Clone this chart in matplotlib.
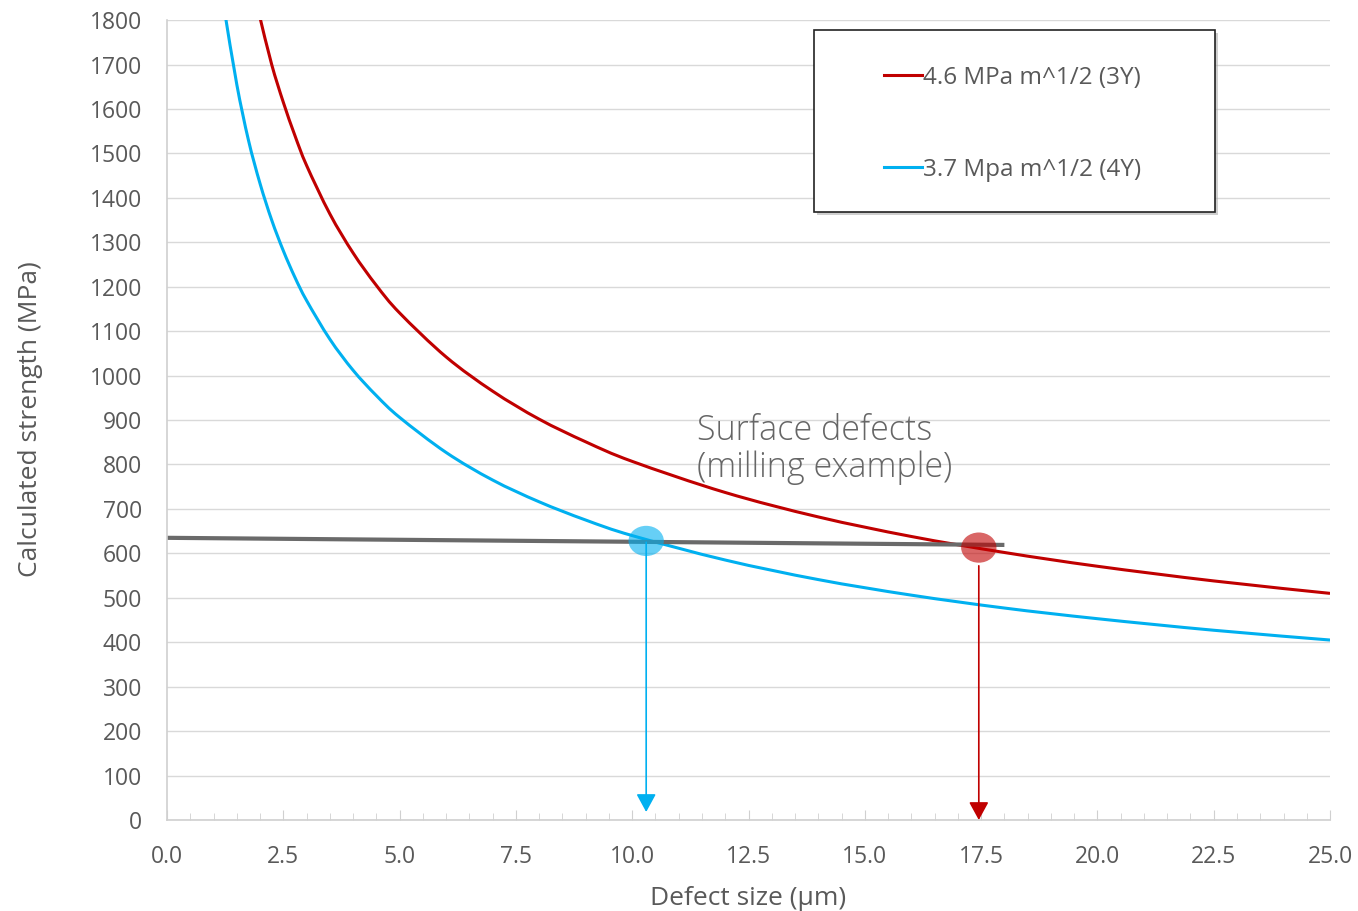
import matplotlib
matplotlib.use("Agg")
import matplotlib.pyplot as plt
from matplotlib.patches import Ellipse, Rectangle, PathPatch
from matplotlib.path import Path
from matplotlib.lines import Line2D
from matplotlib.ticker import MultipleLocator, FormatStrFormatter
import numpy as np

plt.rcParams['font.family'] = ['Open Sans', 'DejaVu Sans']

# red curve: 4.6 MPa m^1/2 (3Y)
red_x = [2.0, 2.25, 2.5, 2.75, 3.0, 3.5, 4.0, 4.5, 5.0, 6.0, 7.0, 8.0, 9.0,
         10.0, 12.0, 14.0, 16.0, 18.0, 20.0, 22.5, 25.0]
red_y = [1805, 1700, 1615, 1540, 1473, 1364, 1276, 1203, 1141, 1042, 965, 902,
         851, 807, 737, 682, 638, 602, 571, 538, 510]

# blue curve: 3.7 Mpa m^1/2 (4Y)
blue_x = [1.25, 1.5, 1.75, 2.0, 2.25, 2.5, 2.75, 3.0, 3.5, 4.0, 4.5, 5.0, 6.0,
          7.0, 8.0, 9.0, 10.0, 12.0, 14.0, 16.0, 18.0, 20.0, 22.5, 25.0]
blue_y = [1812, 1655, 1530, 1432, 1350, 1281, 1221, 1169, 1082, 1012, 955, 906,
          827, 765, 716, 675, 640, 585, 541, 506, 477, 453, 427, 405]

# grey "surface defects" line
grey_x = [0, 18.0]
grey_y = [635, 619]

# intersection dots and arrows
dot_x = [10.3, 17.45]
dot_y = [628, 613]
arrow_start = [625, 572]
arrow_end = [18, 0]

labels = ['4.6 MPa m^1/2 (3Y)', '3.7 Mpa m^1/2 (4Y)']
red = '#C00000'
blue = '#00B0F0'
txt = '#595959'


def smooth_path(xs, ys):
    # excel-like smoothed line: catmull-rom segments as cubic beziers
    p = np.column_stack([xs, ys]).astype(float)
    p = np.vstack([p[0], p, p[-1]])
    verts = [p[1]]
    codes = [Path.MOVETO]
    for i in range(1, len(p) - 2):
        c1 = p[i] + (p[i + 1] - p[i - 1]) / 6
        c2 = p[i + 1] - (p[i + 2] - p[i]) / 6
        verts += [c1, c2, p[i + 1]]
        codes += [Path.CURVE4] * 3
    return Path(verts, codes)


fig = plt.figure(figsize=(13.58, 9.11), dpi=100)
ax = fig.add_axes([0.123, 0.0999, 0.8564, 0.878])

ax.set_xlim(0, 25)
ax.set_ylim(0, 1800)
ax.yaxis.set_major_locator(MultipleLocator(100))
ax.xaxis.set_major_locator(MultipleLocator(2.5))
ax.xaxis.set_minor_locator(MultipleLocator(0.5))
ax.xaxis.set_major_formatter(FormatStrFormatter('%.1f'))
ax.grid(axis='y', color='#d9d9d9', lw=1)
ax.set_axisbelow(True)
for s in ['top', 'right']:
    ax.spines[s].set_visible(False)
for s in ['left', 'bottom']:
    ax.spines[s].set_color('#d0d0d0')
    ax.spines[s].set_linewidth(1.2)
ax.tick_params(axis='y', length=0, pad=18, labelsize=16.5, labelcolor=txt)
ax.tick_params(axis='x', which='major', direction='in', length=7, color='#d0d0d0',
               pad=18, labelsize=16.5, labelcolor=txt)
ax.tick_params(axis='x', which='minor', direction='in', length=5, color='#d0d0d0')

ax.add_patch(PathPatch(smooth_path(red_x, red_y), facecolor='none', edgecolor=red,
                       lw=2.2, zorder=2))
ax.add_patch(PathPatch(smooth_path(blue_x, blue_y), facecolor='none', edgecolor=blue,
                       lw=2.2, zorder=2))
ax.plot(grey_x, grey_y, color='#6a6a6a', lw=3, solid_capstyle='butt', zorder=2)

colors = [blue, red]
for i in range(2):
    ax.add_patch(Ellipse((dot_x[i], dot_y[i]), 0.76, 68, facecolor=colors[i],
                         alpha=0.6, edgecolor='none', zorder=3))
    ax.annotate('', xy=(dot_x[i], arrow_end[i]), xytext=(dot_x[i], arrow_start[i]),
                arrowprops=dict(arrowstyle='-|>,head_length=0.55,head_width=0.3',
                                color=colors[i], lw=1.2, shrinkA=0, shrinkB=0,
                                mutation_scale=20), zorder=4)

ax.text(11.39, 835, 'Surface defects\n(milling example)', fontsize=24.5,
        fontweight=300, color='#666666', va='center', ha='left', linespacing=1.1)

# legend box with shadow
ax.add_patch(Rectangle((0.5593, 0.7562), 0.3448, 0.2275, transform=ax.transAxes,
                       facecolor='#a0a0a0', edgecolor='none', alpha=0.5, zorder=5,
                       clip_on=False))
ax.add_patch(Rectangle((0.5563, 0.76), 0.3448, 0.2275, transform=ax.transAxes,
                       facecolor='white', edgecolor='#222222', lw=1.2, zorder=6,
                       clip_on=False))
handles = [Line2D([], [], color=red, lw=2.2), Line2D([], [], color=blue, lw=2.2)]
leg = ax.legend(handles, labels, loc='center left', bbox_to_anchor=(0.6165, 0.8705),
                frameon=False, borderpad=0, borderaxespad=0, handlelength=1.55,
                handletextpad=0.05, labelspacing=2.8, fontsize=17.5, labelcolor=txt)
leg.set_zorder(7)

ax.set_xlabel('Defect size (µm)', fontsize=19, color=txt)
ax.set_ylabel('Calculated strength (MPa)', fontsize=19, color=txt)
ax.xaxis.set_label_coords(0.4996, -0.082)
ax.yaxis.set_label_coords(-0.1066, 0.501)

fig.savefig('out.png', dpi=100)
